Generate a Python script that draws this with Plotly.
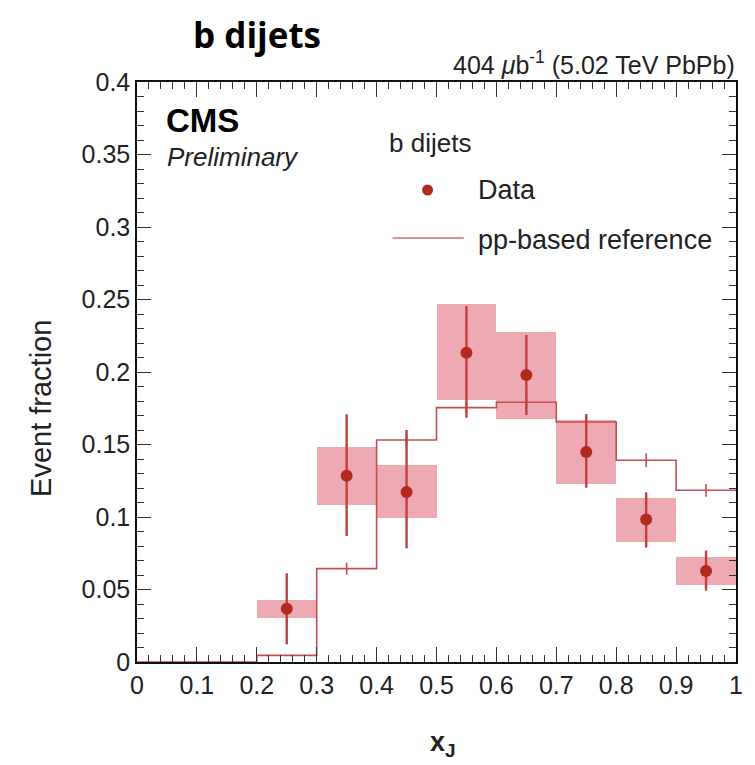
import plotly.graph_objects as go

# ---- data ----
bin_centers = [0.25, 0.35, 0.45, 0.55, 0.65, 0.75, 0.85, 0.95]
data_val = [0.0368, 0.1285, 0.1172, 0.2133, 0.1979, 0.1448, 0.0982, 0.0628]
stat_up = [0.0244, 0.0423, 0.0428, 0.0322, 0.0276, 0.0262, 0.0188, 0.0140]
stat_dn = [0.0246, 0.0416, 0.0388, 0.0448, 0.0276, 0.0246, 0.0193, 0.0136]
syst_hi = [0.0428, 0.1485, 0.1359, 0.2467, 0.2278, 0.1669, 0.1128, 0.0726]
syst_lo = [0.0303, 0.1080, 0.0991, 0.1807, 0.1674, 0.1228, 0.0828, 0.0531]

ref_edges = [0.0, 0.1, 0.2, 0.3, 0.4, 0.5, 0.6, 0.7, 0.8, 0.9, 1.0]
ref_val = [0.0, 0.0, 0.0046, 0.0644, 0.1531, 0.1754, 0.1791, 0.1655, 0.1391, 0.1184]
ref_err_x = [0.35, 0.45, 0.55, 0.65, 0.75, 0.85, 0.95]
ref_err_y = [0.0644, 0.1531, 0.1754, 0.1791, 0.1655, 0.1391, 0.1184]
ref_err = [0.0042, 0.004, 0.004, 0.004, 0.004, 0.0048, 0.0044]

x_ticks = [0, 0.1, 0.2, 0.3, 0.4, 0.5, 0.6, 0.7, 0.8, 0.9, 1]
x_tick_labels = ["0", "0.1", "0.2", "0.3", "0.4", "0.5", "0.6", "0.7", "0.8", "0.9", "1"]
y_ticks = [0, 0.05, 0.1, 0.15, 0.2, 0.25, 0.3, 0.35, 0.4]
y_tick_labels = ["0", "0.05", "0.1", "0.15", "0.2", "0.25", "0.3", "0.35", "0.4"]

BOX = "#eeaab2"
PT = "#b3291e"
ERR = "#c43e3e"
LINE = "#c64e4e"
FONT = "Liberation Sans"

fig = go.Figure()

# systematic boxes
fig.add_trace(go.Bar(
    x=bin_centers,
    y=[h - l for h, l in zip(syst_hi, syst_lo)],
    base=syst_lo,
    width=0.1,
    marker=dict(color=BOX, line=dict(width=0)),
    showlegend=False,
    hoverinfo="skip",
))

# reference step line
fig.add_trace(go.Scatter(
    x=ref_edges,
    y=ref_val + [ref_val[-1]],
    mode="lines",
    line=dict(shape="hv", color=LINE, width=1.6),
    showlegend=False,
))

# reference errors
fig.add_trace(go.Scatter(
    x=ref_err_x, y=ref_err_y, mode="markers",
    marker=dict(size=1, color="rgba(0,0,0,0)"),
    error_y=dict(type="data", array=ref_err, color=LINE, thickness=1.6, width=0),
    showlegend=False,
))

# data points
fig.add_trace(go.Scatter(
    x=bin_centers, y=data_val, mode="markers",
    marker=dict(size=12, color=PT),
    error_y=dict(type="data", symmetric=False, array=stat_up, arrayminus=stat_dn,
                 color=ERR, thickness=2.4, width=0),
    showlegend=False,
))

axis_common = dict(
    showline=True, linecolor="#111", linewidth=1.5, mirror="allticks",
    ticks="inside", tickcolor="#333", tickwidth=1.2,
    showgrid=False, zeroline=False,
    tickfont=dict(family=FONT, size=25, color="#222"),
)

fig.update_xaxes(
    range=[0, 1], tickvals=x_ticks, ticktext=x_tick_labels, ticklen=15,
    minor=dict(dtick=0.02, ticklen=7, ticks="inside", tickcolor="#333", tickwidth=1.2),
    **axis_common,
)
fig.update_yaxes(
    range=[0, 0.4], tickvals=y_ticks, ticktext=y_tick_labels, ticklen=14,
    minor=dict(dtick=0.01, ticklen=7, ticks="inside", tickcolor="#333", tickwidth=1.2),
    **axis_common,
)

# page has an 8px body margin; size the figure so the plot area lands at
# x 137..742, y 82..662 in the 755x765 window
fig.update_layout(
    width=747, height=757,
    margin=dict(l=129, r=13, t=74, b=103),
    plot_bgcolor="white", paper_bgcolor="white",
    bargap=0,
    showlegend=False,
)

def px_x(p):
    return (p - 137) / (742 - 137)

def px_y(p):
    return (662 - p) / (662 - 82)

def note(text, x, y, size, anchor="left", family=FONT, color="#222", angle=0, yanchor="middle"):
    fig.add_annotation(text=text, x=px_x(x), y=px_y(y), xref="paper", yref="paper",
                       showarrow=False, xanchor=anchor, yanchor=yanchor, textangle=angle,
                       font=dict(family=family, size=size, color=color))

note("<b>b dijets</b>", 258, 9, 35, anchor="center", family="Open Sans", color="black", yanchor="top")
note("404 <i>μ</i>b<sup>-1</sup> (5.02 TeV PbPb)", 743, 63, 25, anchor="right")
note("<b>CMS</b>", 164, 121, 33, color="black")
note("<i>Preliminary</i>", 165, 157, 26)
note("b dijets", 389, 143, 26)
note("Data", 479, 190, 27)
note("pp-based reference", 479, 240, 27)
note("Event fraction", 40, 408, 29, anchor="center", angle=-90)
note("<b>x</b><sub><b>J</b></sub>", 446, 744, 27, anchor="center")

# legend glyphs
fig.add_shape(type="circle", xref="paper", yref="paper",
              x0=px_x(425), x1=px_x(436), y0=px_y(195.5), y1=px_y(184.5),
              fillcolor=PT, line=dict(width=0))
fig.add_shape(type="line", xref="paper", yref="paper",
              x0=px_x(395), x1=px_x(467), y0=px_y(238), y1=px_y(238),
              line=dict(color="#cf7070", width=1.6))

fig.write_html("out.html")
